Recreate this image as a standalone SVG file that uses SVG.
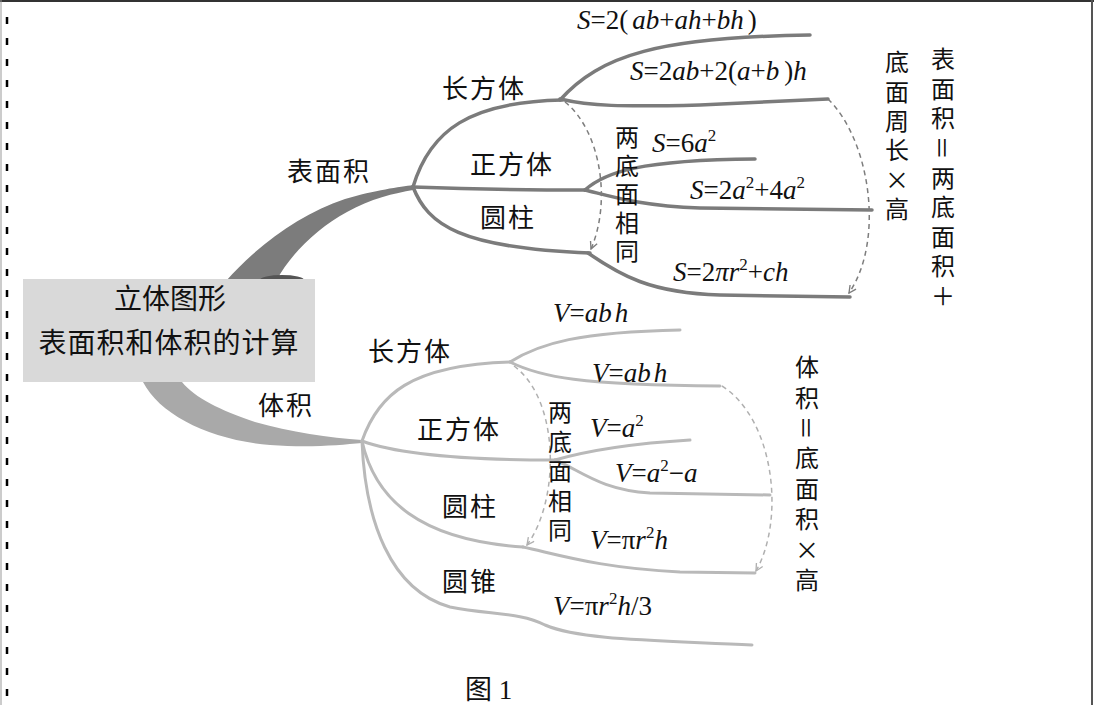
<svg xmlns="http://www.w3.org/2000/svg" width="1094" height="705" viewBox="0 0 1094 705">
<style>
.cn{font-family:"Noto Sans CJK SC","Liberation Serif",sans-serif;font-size:26px;fill:#111;letter-spacing:2px}
.box{font-family:"Noto Sans CJK SC",sans-serif;font-size:28px;fill:#111;text-anchor:middle}
.f{font-family:"Liberation Serif","Noto Sans CJK SC",serif;font-size:27px;fill:#111}
.i{font-style:italic}
.v{font-family:"Noto Sans CJK SC",sans-serif;font-size:24px;fill:#111;writing-mode:vertical-rl;text-orientation:mixed}
.up{fill:none;stroke:#7b7b7b;stroke-width:3.5;stroke-linecap:round}
.lo{fill:none;stroke:#b9b9b9;stroke-width:3;stroke-linecap:round}
.dup{fill:none;stroke:#7d7d7d;stroke-width:1.5;stroke-dasharray:5 4}
.dlo{fill:none;stroke:#b0b0b0;stroke-width:1.5;stroke-dasharray:5 4}
</style>
<defs>
<marker id="aup" viewBox="0 0 10 10" refX="9" refY="5" markerWidth="9" markerHeight="9" orient="auto" markerUnits="userSpaceOnUse"><path d="M1,1 L9,5 L1,9" fill="none" stroke="#7d7d7d" stroke-width="1.5"/></marker>
<marker id="alo" viewBox="0 0 10 10" refX="9" refY="5" markerWidth="9" markerHeight="9" orient="auto" markerUnits="userSpaceOnUse"><path d="M1,1 L9,5 L1,9" fill="none" stroke="#b0b0b0" stroke-width="1.5"/></marker>
</defs>
<rect width="1094" height="705" fill="#fff"/>
<g id="frame">
<line x1="0" y1="1" x2="1094" y2="1" stroke="#333" stroke-width="2"/>
<line x1="1092" y1="0" x2="1092" y2="705" stroke="#555" stroke-width="2"/>
<line x1="1" y1="0" x2="1" y2="705" stroke="#999" stroke-width="1"/>
<line x1="7" y1="17" x2="7" y2="705" stroke="#000" stroke-width="2.5" stroke-dasharray="7 14"/>
</g>
<g id="connectors">
<path d="M226,281 C258,245 300,214 345,199 C375,190 400,187 413,185 L413,190 C395,193 370,199 347,212 C318,228 292,252 276,281 Z" fill="#7c7c7c"/>
<ellipse cx="282" cy="280" rx="22" ry="5" fill="#555"/>
<path d="M143,382 C160,415 210,440 270,445 C310,448 340,445 362,443 L362,440 C330,438 290,432 255,422 C220,410 195,398 182,382 Z" fill="#a9a9a9"/>
<path class="up" d="M413,187 C430,130 470,102 562,100"/>
<path class="up" d="M560,100 C600,55 660,37 810,35"/>
<path class="up" d="M560,99 C590,106 620,107 700,105 L828,99"/>
<path class="up" d="M413,187 C470,189 530,190 585,190"/>
<path class="up" d="M585,190 C605,172 640,160 755,159"/>
<path class="up" d="M585,190 C610,196 640,206 700,208 L872,210"/>
<path class="up" d="M413,187 C428,225 460,248 590,253"/>
<path class="up" d="M588,253 C620,275 650,293 720,295 L850,297"/>
<path class="dup" d="M565,102 C600,130 612,200 591,249" marker-end="url(#aup)"/>
<path class="dup" d="M828,99 C870,140 885,240 849,293" marker-end="url(#aup)"/>
<path class="lo" d="M362,441 C378,395 410,365 510,362"/>
<path class="lo" d="M510,362 C540,343 580,332 680,330"/>
<path class="lo" d="M510,362 C540,377 580,385 720,386"/>
<path class="lo" d="M362,441 C400,455 470,460 555,460"/>
<path class="lo" d="M555,460 C590,450 640,443 690,440"/>
<path class="lo" d="M555,460 C580,470 600,490 650,493 L770,495"/>
<path class="lo" d="M362,441 C375,500 420,540 523,547"/>
<path class="lo" d="M523,547 C560,555 600,568 680,572 L755,573"/>
<path class="lo" d="M362,441 C365,520 390,590 450,607 C490,615 520,612 545,625 C580,640 650,640 752,645"/>
<path class="dlo" d="M514,366 C560,400 560,500 527,545" marker-end="url(#alo)"/>
<path class="dlo" d="M722,386 C775,420 785,520 756,571" marker-end="url(#alo)"/>
</g>
<g id="root">
<rect x="23" y="279" width="292" height="103" fill="#d9d9d9"/>
<text class="box" x="170" y="309">立体图形</text>
<text class="box" x="169" y="353" letter-spacing="1">表面积和体积的计算</text>
</g>
<g id="n-surface"><text class="cn" x="287" y="181">表面积</text></g>
<g id="n-volume"><text class="cn" x="258" y="415">体积</text></g>
<g id="n-s-cuboid"><text class="cn" x="442" y="98">长方体</text></g>
<g id="n-s-cube"><text class="cn" x="470" y="174">正方体</text></g>
<g id="n-s-cyl"><text class="cn" x="480" y="227">圆柱</text></g>
<g id="n-v-cuboid"><text class="cn" x="368" y="361">长方体</text></g>
<g id="n-v-cube"><text class="cn" x="417" y="439">正方体</text></g>
<g id="n-v-cyl"><text class="cn" x="442" y="516">圆柱</text></g>
<g id="n-v-cone"><text class="cn" x="442" y="591">圆锥</text></g>
<g id="formulas-s">
<text class="f" x="577" y="29"><tspan class="i">S</tspan>=2(<tspan class="i" dx="4">ab</tspan>+<tspan class="i">ah</tspan>+<tspan class="i">bh</tspan><tspan dx="4">)</tspan></text>
<text class="f" x="630" y="80"><tspan class="i">S</tspan>=2<tspan class="i">ab</tspan>+2(<tspan class="i">a</tspan>+<tspan class="i">b</tspan><tspan dx="5">)</tspan><tspan class="i">h</tspan></text>
<text class="f" x="652" y="152"><tspan class="i">S</tspan>=6<tspan class="i">a</tspan><tspan dy="-11" font-size="17">2</tspan></text>
<text class="f" x="690" y="199"><tspan class="i">S</tspan>=2<tspan class="i">a</tspan><tspan dy="-11" font-size="17">2</tspan><tspan dy="11">+4</tspan><tspan class="i">a</tspan><tspan dy="-11" font-size="17">2</tspan></text>
<text class="f" x="673" y="281"><tspan class="i">S</tspan>=2<tspan class="i">πr</tspan><tspan dy="-11" font-size="17">2</tspan><tspan dy="11">+</tspan><tspan class="i">ch</tspan></text>
</g>
<g id="formulas-v">
<text class="f" x="553" y="322"><tspan class="i">V</tspan>=<tspan class="i">ab</tspan><tspan class="i" dx="3">h</tspan></text>
<text class="f" x="592" y="382"><tspan class="i">V</tspan>=<tspan class="i">ab</tspan><tspan class="i" dx="3">h</tspan></text>
<text class="f" x="590" y="437"><tspan class="i">V</tspan>=<tspan class="i">a</tspan><tspan dy="-11" font-size="17">2</tspan></text>
<text class="f" x="615" y="482"><tspan class="i">V</tspan>=<tspan class="i">a</tspan><tspan dy="-11" font-size="17">2</tspan><tspan dy="11">−</tspan><tspan class="i">a</tspan></text>
<text class="f" x="590" y="549"><tspan class="i">V</tspan>=π<tspan class="i">r</tspan><tspan dy="-11" font-size="17">2</tspan><tspan class="i" dy="11">h</tspan></text>
<text class="f" x="553" y="615"><tspan class="i">V</tspan>=π<tspan class="i">r</tspan><tspan dy="-11" font-size="17">2</tspan><tspan class="i" dy="11">h</tspan>/3</text>
</g>
<g id="note-s-same"><text class="v" x="627" y="125" letter-spacing="4.5">两底面相同</text></g>
<g id="note-s-side"><text class="v" x="897" y="50" letter-spacing="5.4">底面周长×高</text></g>
<g id="note-s-total"><text class="v" x="943" y="47" letter-spacing="5.6">表面积＝两底面积＋</text></g>
<g id="note-v-same"><text class="v" x="560" y="400" letter-spacing="5.5">两底面相同</text></g>
<g id="note-v-total"><text class="v" x="807" y="355" letter-spacing="6.4">体积＝底面积×高</text></g>
<g id="caption"><text x="465" y="699" font-family="Liberation Serif,Noto Sans CJK SC,serif" font-size="27" fill="#111">图 1</text></g>
</svg>
